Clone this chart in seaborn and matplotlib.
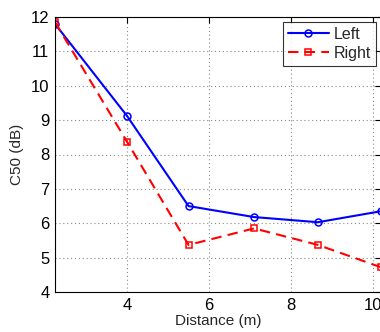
import matplotlib
matplotlib.use("Agg")
import matplotlib.pyplot as plt
import seaborn as sns
import pandas as pd

distance = [2.24, 4.0, 5.5, 7.1, 8.66, 10.2]
left_c50 = [11.8, 9.12, 6.5, 6.18, 6.03, 6.35]
right_c50 = [11.85, 8.37, 5.37, 5.85, 5.37, 4.72]
series_names = ["Left", "Right"]
x_ticks = [4, 6, 8, 10]
y_ticks = [4, 5, 6, 7, 8, 9, 10, 11, 12]

df = pd.DataFrame({
    "Distance": distance * 2,
    "C50": left_c50 + right_c50,
    "Side": [series_names[0]] * len(distance) + [series_names[1]] * len(distance),
})

sns.set_style("white")
plt.rcParams['font.family'] = ['Liberation Sans', 'DejaVu Sans']

fig = plt.figure(figsize=(3.8, 3.32), dpi=100)
ax = fig.add_axes([55 / 380, 1 - 292 / 332, (381 - 55) / 380, (292 - 17) / 332])

palette = {"Left": "#0000ff", "Right": "#ff0000"}
sns.lineplot(data=df, x="Distance", y="C50", hue="Side", style="Side",
             palette=palette, dashes={"Left": "", "Right": (5, 3)},
             markers={"Left": "o", "Right": "s"}, markersize=5,
             markerfacecolor="none", markeredgewidth=1.1,
             linewidth=1.5, ax=ax, legend=False)

for line, name in zip(ax.get_lines(), series_names):
    line.set_label(name)
    line.set_markeredgecolor(palette[name])
    line.set_markerfacecolor("none")

ax.set_xlim(min(distance), max(distance))
ax.set_ylim(4, 12)
ax.set_xticks(x_ticks)
ax.set_yticks(y_ticks)
ax.tick_params(direction="in", length=4, labelsize=12, colors="black", width=0.8,
               top=True, right=True, pad=4)
ax.grid(True, linestyle=(0, (1, 2.5)), color="#888888", linewidth=0.8)
for s in ax.spines.values():
    s.set_color("black")
    s.set_linewidth(0.8)
ax.set_xlabel("Distance (m)", fontsize=11, labelpad=1)
ax.set_ylabel("C50 (dB)", fontsize=11, labelpad=5)

leg = ax.legend(loc="upper right", bbox_to_anchor=((376 - 55) / 326, 1 - 5 / 275),
                fontsize=11.5, frameon=True, fancybox=False, edgecolor="black",
                handlelength=2.6, handletextpad=0.3, borderpad=0.3,
                labelspacing=0.25, borderaxespad=0)
leg.get_frame().set_linewidth(0.8)

fig.savefig("out.png", dpi=100)
